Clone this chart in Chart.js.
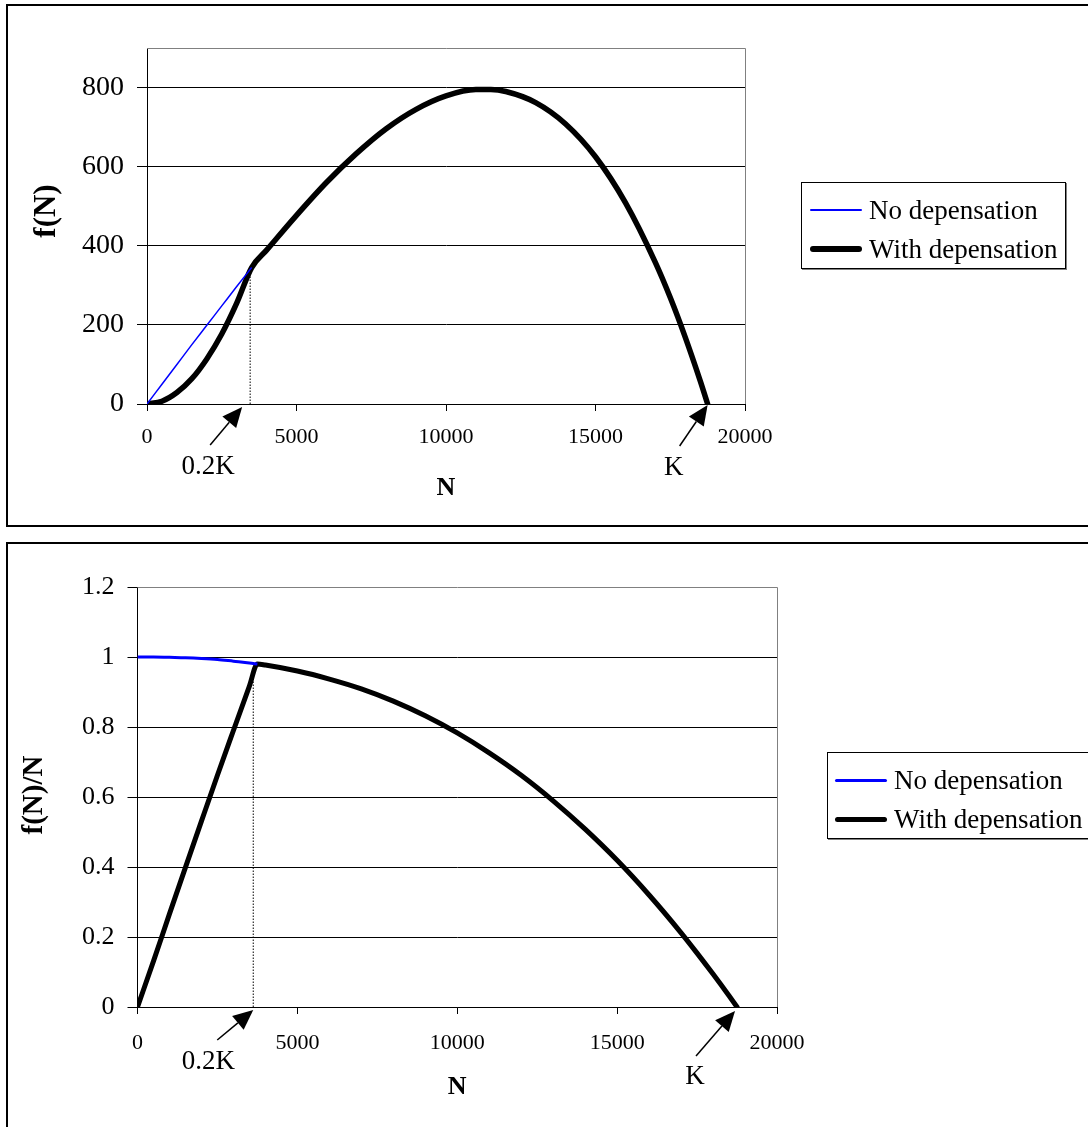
<!DOCTYPE html>
<html>
<head>
<meta charset="utf-8">
<script src="https://cdn.jsdelivr.net/npm/chart.js@4.4.0/dist/chart.umd.min.js"></script>
<style>
  body { margin: 0; background: #fff; width: 1088px; height: 1127px; overflow: hidden; position: relative;
         font-family: "Liberation Serif", "Times New Roman", serif; }
  .frame { position: absolute; border: 2px solid #000; box-sizing: border-box; }
  canvas { position: absolute; left: 0; }
  .legend { position: absolute; border: 1px solid #000; box-shadow: 1px 1px 0 #808080; background: #fff;
            font-size: 27px; color: #000; box-sizing: border-box; }
  .legend .row { display: flex; align-items: center; white-space: nowrap; }
  .legend .swatch { display: inline-block; width: 52px; margin-right: 7px; border-radius: 3px; }
</style>
</head>
<body>
<div class="frame" style="left:6px; top:4px; width:1100px; height:523px;"></div>
<div class="frame" style="left:6px; top:542px; width:1100px; height:600px;"></div>
<canvas id="topChart" width="1088" height="535" style="top:0;"></canvas>
<canvas id="botChart" width="1088" height="592" style="top:535px;"></canvas>
<div class="legend" id="topLegend" style="left:801px; top:182px; width:265px; height:87px; padding:7px 0 0 8px;"></div>
<div class="legend" id="botLegend" style="left:827px; top:752px; width:270px; height:87px; padding:7px 0 0 7px;"></div>
<script>
const FONT = '"Liberation Serif", "Times New Roman", serif';

// top chart: f(N) against N
const nTop = [0, 500, 1000, 1500, 2000, 2500, 3000, 3500, 4000, 5000, 6000, 7000, 8000, 9000, 10000,
              11000, 11500, 12000, 13000, 14000, 15000, 16000, 17000, 17500, 18000, 18500, 18750];
const fNoDep = [0, 50, 100, 150, 199, 248, 297, 345];
const fWithDep = [0, 7, 29, 64, 114, 177, 255, 345, 389, 477, 560, 633, 696, 745, 779,
                  795, 795, 790, 762, 708, 625, 509, 358, 269, 169, 59, 0];
const topMarkN = [3450, 3450];
const topMarkF = [0, 338];

// bottom chart: f(N)/N against N
const nBot = [0, 500, 1000, 1500, 2000, 2500, 3000, 3500, 3750, 4000, 5000, 6000, 7000, 8000, 9000,
              10000, 11000, 12000, 13000, 14000, 15000, 16000, 17000, 17500, 18000, 18500, 18750];
const rNoDep = [1, 1, 0.999, 0.998, 0.996, 0.993, 0.988, 0.983, 0.98];
const rWithDep = [0, 0.131, 0.266, 0.399, 0.531, 0.662, 0.79, 0.917, 0.98, 0.977, 0.96, 0.937, 0.909, 0.874, 0.832,
                  0.783, 0.726, 0.662, 0.589, 0.508, 0.419, 0.32, 0.212, 0.154, 0.094, 0.032, 0];
const botMarkN = [3620, 3620];
const botMarkR = [0, 0.93];

const seriesLabels = ['No depensation', 'With depensation'];
const xTicks = [0, 5000, 10000, 15000, 20000];

function pts(xs, ys) {
  return ys.map((v, i) => ({ x: xs[i], y: v }));
}

// grey top + right edge of the plot area
const plotFrame = {
  id: 'plotFrame',
  beforeDatasetsDraw(chart) {
    const { ctx, chartArea: a } = chart;
    ctx.save();
    ctx.strokeStyle = '#808080';
    ctx.lineWidth = 1;
    ctx.beginPath();
    ctx.moveTo(a.left, a.top + 0.5);
    ctx.lineTo(a.right + 0.5, a.top + 0.5);
    ctx.lineTo(a.right + 0.5, a.bottom);
    ctx.stroke();
    ctx.restore();
  }
};

// arrows pointing at 0.2K and K, plus the rotated y title
function annotations(arrows, yTitle) {
  return {
    id: 'annotations',
    afterDraw(chart) {
      const { ctx, scales: { x, y } } = chart;
      ctx.save();
      ctx.fillStyle = '#000';
      ctx.strokeStyle = '#000';
      arrows.forEach(a => {
        const ax = x.getPixelForValue(a.n), ay = y.getPixelForValue(0);
        const tx = ax + a.tip[0], ty = ay + a.tip[1];
        const sx = tx + a.tail[0], sy = ty + a.tail[1];
        const ang = Math.atan2(ty - sy, tx - sx);
        const hl = 20, hw = 9;
        const bx = tx - hl * Math.cos(ang), by = ty - hl * Math.sin(ang);
        ctx.lineWidth = 1.5;
        ctx.beginPath();
        ctx.moveTo(sx, sy);
        ctx.lineTo(bx, by);
        ctx.stroke();
        ctx.beginPath();
        ctx.moveTo(tx, ty);
        ctx.lineTo(bx + hw * Math.sin(ang), by - hw * Math.cos(ang));
        ctx.lineTo(bx - hw * Math.sin(ang), by + hw * Math.cos(ang));
        ctx.closePath();
        ctx.fill();
        ctx.font = '27px ' + FONT;
        ctx.textAlign = 'center';
        ctx.textBaseline = 'middle';
        ctx.fillText(a.label, ax + a.text[0], ay + a.text[1]);
      });
      ctx.translate(yTitle.x, yTitle.y);
      ctx.rotate(-Math.PI / 2);
      ctx.font = 'bold ' + yTitle.size + 'px ' + FONT;
      ctx.textAlign = 'center';
      ctx.textBaseline = 'middle';
      ctx.fillText(yTitle.text, 0, 0);
      ctx.restore();
    }
  };
}

function makeOptions(cfg) {
  return {
    responsive: false,
    animation: false,
    layout: { padding: { left: 0, top: cfg.padTop, right: cfg.padRight, bottom: 0 } },
    plugins: { legend: { display: false }, tooltip: { enabled: false } },
    elements: { point: { radius: 0 } },
    scales: {
      x: {
        type: 'linear', min: 0, max: 20000,
        afterBuildTicks: s => { s.ticks = xTicks.map(v => ({ value: v })); },
        ticks: { color: '#000', font: { family: FONT, size: 22 }, padding: cfg.xPad, maxRotation: 0,
                 callback: v => String(v) },
        grid: { drawOnChartArea: false, drawTicks: true, tickLength: 7, color: '#000' },
        border: { color: '#000', width: 1 },
        title: { display: true, text: 'N', color: '#000', font: { family: FONT, size: 26, weight: 'bold' },
                 padding: { top: 0, bottom: cfg.nPad } },
        afterFit: s => { s.height = cfg.xHeight; }
      },
      y: {
        min: 0, max: cfg.yMax,
        ticks: { stepSize: cfg.yStep, includeBounds: false, color: '#000',
                 font: { family: FONT, size: cfg.yFont }, padding: cfg.yPad,
                 callback: v => String(Math.round(v * 10) / 10) },
        grid: { color: c => (c.tick && c.tick.value >= cfg.yMax - 1e-9) ? 'rgba(0,0,0,0)' : '#000',
                tickColor: '#000', tickLength: 10, drawTicks: true },
        border: { color: '#000', width: 1 },
        afterFit: s => { s.width = cfg.yWidth; }
      }
    }
  };
}

function datasets(xs, noDep, withDep, markX, markY, blueWidth, blackWidth) {
  return [
    { label: seriesLabels[0], data: pts(xs, noDep), borderColor: '#0000FF', borderWidth: blueWidth,
      cubicInterpolationMode: 'monotone', fill: false },
    { label: seriesLabels[1], data: pts(xs, withDep), borderColor: '#000000', borderWidth: blackWidth,
      cubicInterpolationMode: 'monotone', fill: false, borderCapStyle: 'round', borderJoinStyle: 'round' },
    { label: '', data: pts(markX, markY), borderColor: '#000', borderWidth: 1, borderDash: [1.5, 1.5], fill: false }
  ];
}

function buildLegend(el, chart) {
  chart.data.datasets.slice(0, 2).forEach((ds, i) => {
    const row = document.createElement('div');
    row.className = 'row';
    row.style.height = (i === 0 ? 40 : 38) + 'px';
    const sw = document.createElement('span');
    sw.className = 'swatch';
    sw.style.height = Math.max(1.5, ds.borderWidth) + 'px';
    sw.style.background = ds.borderColor;
    row.appendChild(sw);
    row.appendChild(document.createTextNode(ds.label));
    el.appendChild(row);
  });
}

const topChart = new Chart(document.getElementById('topChart'), {
  type: 'line',
  data: { datasets: datasets(nTop, fNoDep, fWithDep, topMarkN, topMarkF, 1.5, 5.5) },
  options: makeOptions({ padTop: 48, padRight: 343, xHeight: 131, yWidth: 147, yMax: 900, yStep: 200,
                         yFont: 28, yPad: 13, xPad: 13, nPad: 31 }),
  plugins: [plotFrame, annotations([
    { n: 3450, label: '0.2K', tip: [-8, 3], tail: [-32, 38], text: [-42, 63] },
    { n: 18750, label: 'K', tip: [0, 1], tail: [-28, 41], text: [-34, 64] }
  ], { text: 'f(N)', x: 47, y: 211, size: 31 })]
});

const botChart = new Chart(document.getElementById('botChart'), {
  type: 'line',
  data: { datasets: datasets(nBot, rNoDep, rWithDep, botMarkN, botMarkR, 3, 5) },
  options: makeOptions({ padTop: 52, padRight: 311, xHeight: 120, yWidth: 137.5, yMax: 1.2, yStep: 0.2,
                         yFont: 26, yPad: 13, xPad: 16, nPad: 24 }),
  plugins: [plotFrame, annotations([
    { n: 3620, label: '0.2K', tip: [0, 3], tail: [-36, 30], text: [-45, 55] },
    { n: 18750, label: 'K', tip: [-2, 4], tail: [-39, 45], text: [-42, 70] }
  ], { text: 'f(N)/N', x: 35, y: 260, size: 29 })]
});

buildLegend(document.getElementById('topLegend'), topChart);
buildLegend(document.getElementById('botLegend'), botChart);
</script>
</body>
</html>
